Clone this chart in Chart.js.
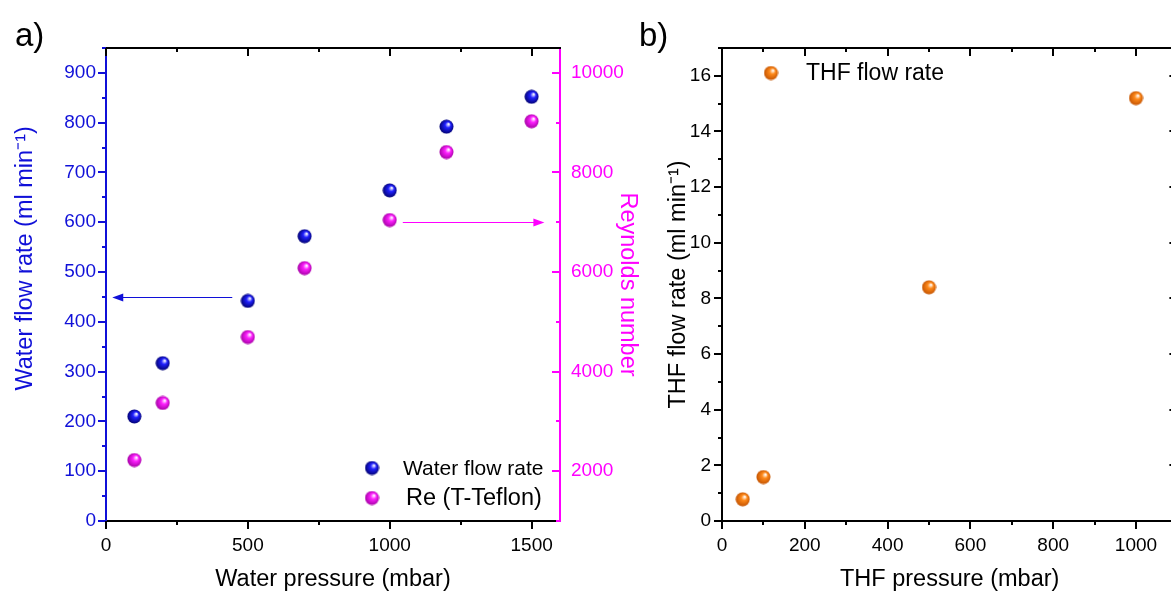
<!DOCTYPE html>
<html>
<head>
<meta charset="utf-8">
<script src="https://cdn.jsdelivr.net/npm/chart.js@4"></script>
<style>
  html, body { margin: 0; padding: 0; background: #fff; overflow: hidden; width: 1171px; height: 591px; }
  .wrap { position: absolute; top: 0; }
  .panel { position: absolute; font-family: "Liberation Sans", Arial, sans-serif; font-size: 33px; color: #000; }
</style>
</head>
<body>
<div class="wrap" style="left:0px"><canvas id="chartA" width="660" height="591"></canvas></div>
<div class="wrap" style="left:600px"><canvas id="chartB" width="640" height="591"></canvas></div>
<div class="panel" style="left:15px; top:16px;">a)</div>
<div class="panel" style="left:639px; top:16px;">b)</div>
<script>
const waterPressure = [100, 200, 500, 700, 1000, 1200, 1500];
const waterFlow = [210, 317, 442, 572, 664, 792, 852];
const reynolds = [2225, 3370, 4695, 6080, 7045, 8410, 9030];

const thfPressure = [50, 100, 500, 1000];
const thfFlow = [0.78, 1.58, 8.4, 15.2];

// labelled ticks
const pressureTicksA = [0, 500, 1000, 1500];
const flowTicksA = [0, 100, 200, 300, 400, 500, 600, 700, 800, 900];
const reTicks = [2000, 4000, 6000, 8000, 10000];
const pressureTicksB = [0, 200, 400, 600, 800, 1000];
const flowTicksB = [0, 2, 4, 6, 8, 10, 12, 14, 16];

const BLUE = "#1010d8";
const MAGENTA = "#ff00ff";
const FONT = "'Liberation Sans', Arial, sans-serif";

// little shaded balls like the Origin markers
function sphere(base, dark, size) {
  const c = document.createElement("canvas");
  c.width = c.height = size;
  const g = c.getContext("2d");
  const r = size / 2;
  const grad = g.createRadialGradient(r * 1.3, r * 0.65, r * 0.05, r, r, r);
  grad.addColorStop(0, "#ffffff");
  grad.addColorStop(0.35, base);
  grad.addColorStop(1, dark);
  g.fillStyle = grad;
  g.beginPath();
  g.arc(r, r, r - 0.5, 0, Math.PI * 2);
  g.fill();
  return c;
}
const blueBall = sphere("#2020ff", "#00006a", 15);
const pinkBall = sphere("#ff20ff", "#a000a0", 15);
const orangeBall = sphere("#ff8a1a", "#c05000", 15);

const toXY = (xs, ys) => xs.map((x, i) => ({ x: x, y: ys[i] }));
const useTicks = (list) => (scale) => { scale.ticks = list.map((v) => ({ value: v })); };
const plain = (v) => String(v);

// tick marks, frame lines, arrows and legend drawn on top of the scales
const decor = {
  id: "decor",
  afterDraw(chart, args, opts) {
    const ctx = chart.ctx;
    const a = chart.chartArea;
    ctx.save();
    (opts.frame || []).forEach((f) => {
      ctx.strokeStyle = f.color;
      ctx.lineWidth = 2;
      ctx.beginPath();
      if (f.edge === "top") { ctx.moveTo(a.left - 1, a.top); ctx.lineTo(a.right + 1, a.top); }
      if (f.edge === "right") { ctx.moveTo(a.right, a.top); ctx.lineTo(a.right, a.bottom); }
      ctx.stroke();
    });
    (opts.ticks || []).forEach((t) => {
      const sc = chart.scales[t.scale];
      let base, sign;
      if (t.edge === "left") { base = a.left; sign = t.dir === "out" ? -1 : 1; }
      if (t.edge === "right") { base = a.right; sign = t.dir === "out" ? 1 : -1; }
      if (t.edge === "bottom") { base = a.bottom; sign = t.dir === "out" ? 1 : -1; }
      if (t.edge === "top") { base = a.top; sign = t.dir === "out" ? -1 : 1; }
      ctx.strokeStyle = t.color;
      ctx.lineWidth = 2;
      const start = Math.ceil(sc.min / t.minor) * t.minor;
      for (let v = start; v <= sc.max + 1e-9; v += t.minor) {
        const major = Math.abs(v / t.major - Math.round(v / t.major)) < 1e-6;
        if (!major && t.majorOnly) continue;
        const len = major ? 8 : 4;
        const p = Math.round(sc.getPixelForValue(v));
        ctx.beginPath();
        if (t.edge === "left" || t.edge === "right") {
          ctx.moveTo(base, p); ctx.lineTo(base + sign * len, p);
        } else {
          ctx.moveTo(p, base); ctx.lineTo(p, base + sign * len);
        }
        ctx.stroke();
      }
    });
    (opts.arrows || []).forEach((ar) => {
      const sx = chart.scales.x, sy = chart.scales[ar.yScale];
      const x1 = sx.getPixelForValue(ar.from), x2 = sx.getPixelForValue(ar.to);
      const y = Math.round(sy.getPixelForValue(ar.y)) + 0.5;
      const d = Math.sign(x2 - x1);
      ctx.strokeStyle = ar.color;
      ctx.fillStyle = ar.color;
      ctx.lineWidth = 1;
      ctx.beginPath();
      ctx.moveTo(x1, y); ctx.lineTo(x2 - d * 6, y);
      ctx.stroke();
      ctx.beginPath();
      ctx.moveTo(x2, y); ctx.lineTo(x2 - d * 11, y - 4); ctx.lineTo(x2 - d * 11, y + 4);
      ctx.closePath();
      ctx.fill();
    });
    if (opts.legend) {
      const L = opts.legend;
      ctx.textBaseline = "middle";
      ctx.textAlign = "left";
      ctx.fillStyle = "#000";
      chart.data.datasets.forEach((ds, i) => {
        const mx = a.left + L.x, my = a.top + L.y + i * L.gap;
        const img = ds.pointStyle;
        ctx.drawImage(img, mx - img.width / 2, my - img.height / 2);
        ctx.font = L.sizes[i] + "px " + FONT;
        ctx.fillText(ds.label, mx + L.textOff[i], my + 1);
      });
    }
    ctx.restore();
  },
};

const tickFont = { family: FONT, size: 19 };
const titleFont = { family: FONT, size: 23.5, lineHeight: 1 };

new Chart(document.getElementById("chartA"), {
  type: "scatter",
  data: {
    datasets: [
      { label: "Water flow rate", data: toXY(waterPressure, waterFlow), yAxisID: "y", pointStyle: blueBall },
      { label: "Re (T-Teflon)", data: toXY(waterPressure, reynolds), yAxisID: "y2", pointStyle: pinkBall },
    ],
  },
  options: {
    responsive: false,
    animation: false,
    events: [],
    layout: { padding: { top: 48, left: 0, right: 0, bottom: 0 } },
    plugins: {
      legend: { display: false },
      tooltip: { enabled: false },
      decor: {
        frame: [{ edge: "top", color: "#000" }],
        ticks: [
          { scale: "y", edge: "left", dir: "out", major: 100, minor: 50, color: BLUE },
          { scale: "y2", edge: "right", dir: "in", major: 2000, minor: 1000, color: MAGENTA },
          { scale: "x", edge: "bottom", dir: "out", major: 500, minor: 250, color: "#000" },
          { scale: "x", edge: "top", dir: "in", major: 500, minor: 250, color: "#000" },
        ],
        arrows: [
          { from: 445, to: 22, y: 450, yScale: "y", color: BLUE },
          { from: 1046, to: 1545, y: 7000, yScale: "y2", color: MAGENTA },
        ],
        legend: { x: 266, y: 420, gap: 30, sizes: [21, 23.5], textOff: [31, 34] },
      },
    },
    scales: {
      x: {
        type: "linear",
        position: "bottom",
        min: 0,
        max: 1600,
        afterBuildTicks: useTicks(pressureTicksA),
        afterFit: (s) => { s.height = 70; },
        grid: { display: false, drawTicks: false },
        border: { display: true, color: "#000", width: 2 },
        ticks: { padding: 13, color: "#000", font: tickFont, maxRotation: 0, autoSkip: false, callback: plain },
        title: { display: true, text: "Water pressure (mbar)", color: "#000", font: titleFont, padding: 0 },
      },
      y: {
        position: "left",
        min: 0,
        max: 950,
        afterBuildTicks: useTicks(flowTicksA),
        afterFit: (s) => { s.width = 106; },
        grid: { display: false, drawTicks: false },
        border: { display: true, color: BLUE, width: 2 },
        ticks: { padding: 10, color: BLUE, font: tickFont, autoSkip: false, callback: plain },
        title: { display: true, text: "        Water flow rate (ml min\u207B\u00B9)", color: BLUE, font: titleFont, padding: { top: 13.5, bottom: 0 } },
      },
      y2: {
        position: "right",
        min: 1000,
        max: 10500,
        afterBuildTicks: useTicks(reTicks),
        afterFit: (s) => { s.width = 100; },
        grid: { display: false, drawTicks: false },
        border: { display: true, color: MAGENTA, width: 2 },
        ticks: { padding: 11, color: MAGENTA, font: tickFont, autoSkip: false, callback: plain },
        title: { display: true, text: "Reynolds number", color: MAGENTA, font: titleFont, padding: { top: 20.5, bottom: 0 } },
      },
    },
  },
  plugins: [decor],
});

new Chart(document.getElementById("chartB"), {
  type: "scatter",
  data: {
    datasets: [
      { label: "THF flow rate", data: toXY(thfPressure, thfFlow), pointStyle: orangeBall },
    ],
  },
  options: {
    responsive: false,
    animation: false,
    events: [],
    layout: { padding: { top: 48, left: 0, right: 62.6, bottom: 0 } },
    plugins: {
      legend: { display: false },
      tooltip: { enabled: false },
      decor: {
        frame: [{ edge: "top", color: "#000" }, { edge: "right", color: "#000" }],
        ticks: [
          { scale: "y", edge: "left", dir: "out", major: 2, minor: 1, color: "#000" },
          { scale: "y", edge: "right", dir: "in", major: 2, minor: 1, majorOnly: true, color: "#000" },
          { scale: "x", edge: "bottom", dir: "out", major: 200, minor: 100, color: "#000" },
          { scale: "x", edge: "top", dir: "in", major: 200, minor: 100, color: "#000" },
        ],
        legend: { x: 49, y: 25, gap: 30, sizes: [23], textOff: [35] },
      },
    },
    scales: {
      x: {
        type: "linear",
        position: "bottom",
        min: 0,
        max: 1100,
        afterBuildTicks: useTicks(pressureTicksB),
        afterFit: (s) => { s.height = 70; },
        grid: { display: false, drawTicks: false },
        border: { display: true, color: "#000", width: 2 },
        ticks: { padding: 13, color: "#000", font: tickFont, maxRotation: 0, autoSkip: false, callback: plain },
        title: { display: true, text: "THF pressure (mbar)", color: "#000", font: titleFont, padding: 0 },
      },
      y: {
        position: "left",
        min: 0,
        max: 17,
        afterBuildTicks: useTicks(flowTicksB),
        afterFit: (s) => { s.width = 122; },
        grid: { display: false, drawTicks: false },
        border: { display: true, color: "#000", width: 2 },
        ticks: { padding: 11, color: "#000", font: tickFont, autoSkip: false, callback: plain },
        title: { display: true, text: "THF flow rate (ml min\u207B\u00B9)", color: "#000", font: titleFont, padding: { top: 66.5, bottom: 0 } },
      },
    },
  },
  plugins: [decor],
});
</script>
</body>
</html>
